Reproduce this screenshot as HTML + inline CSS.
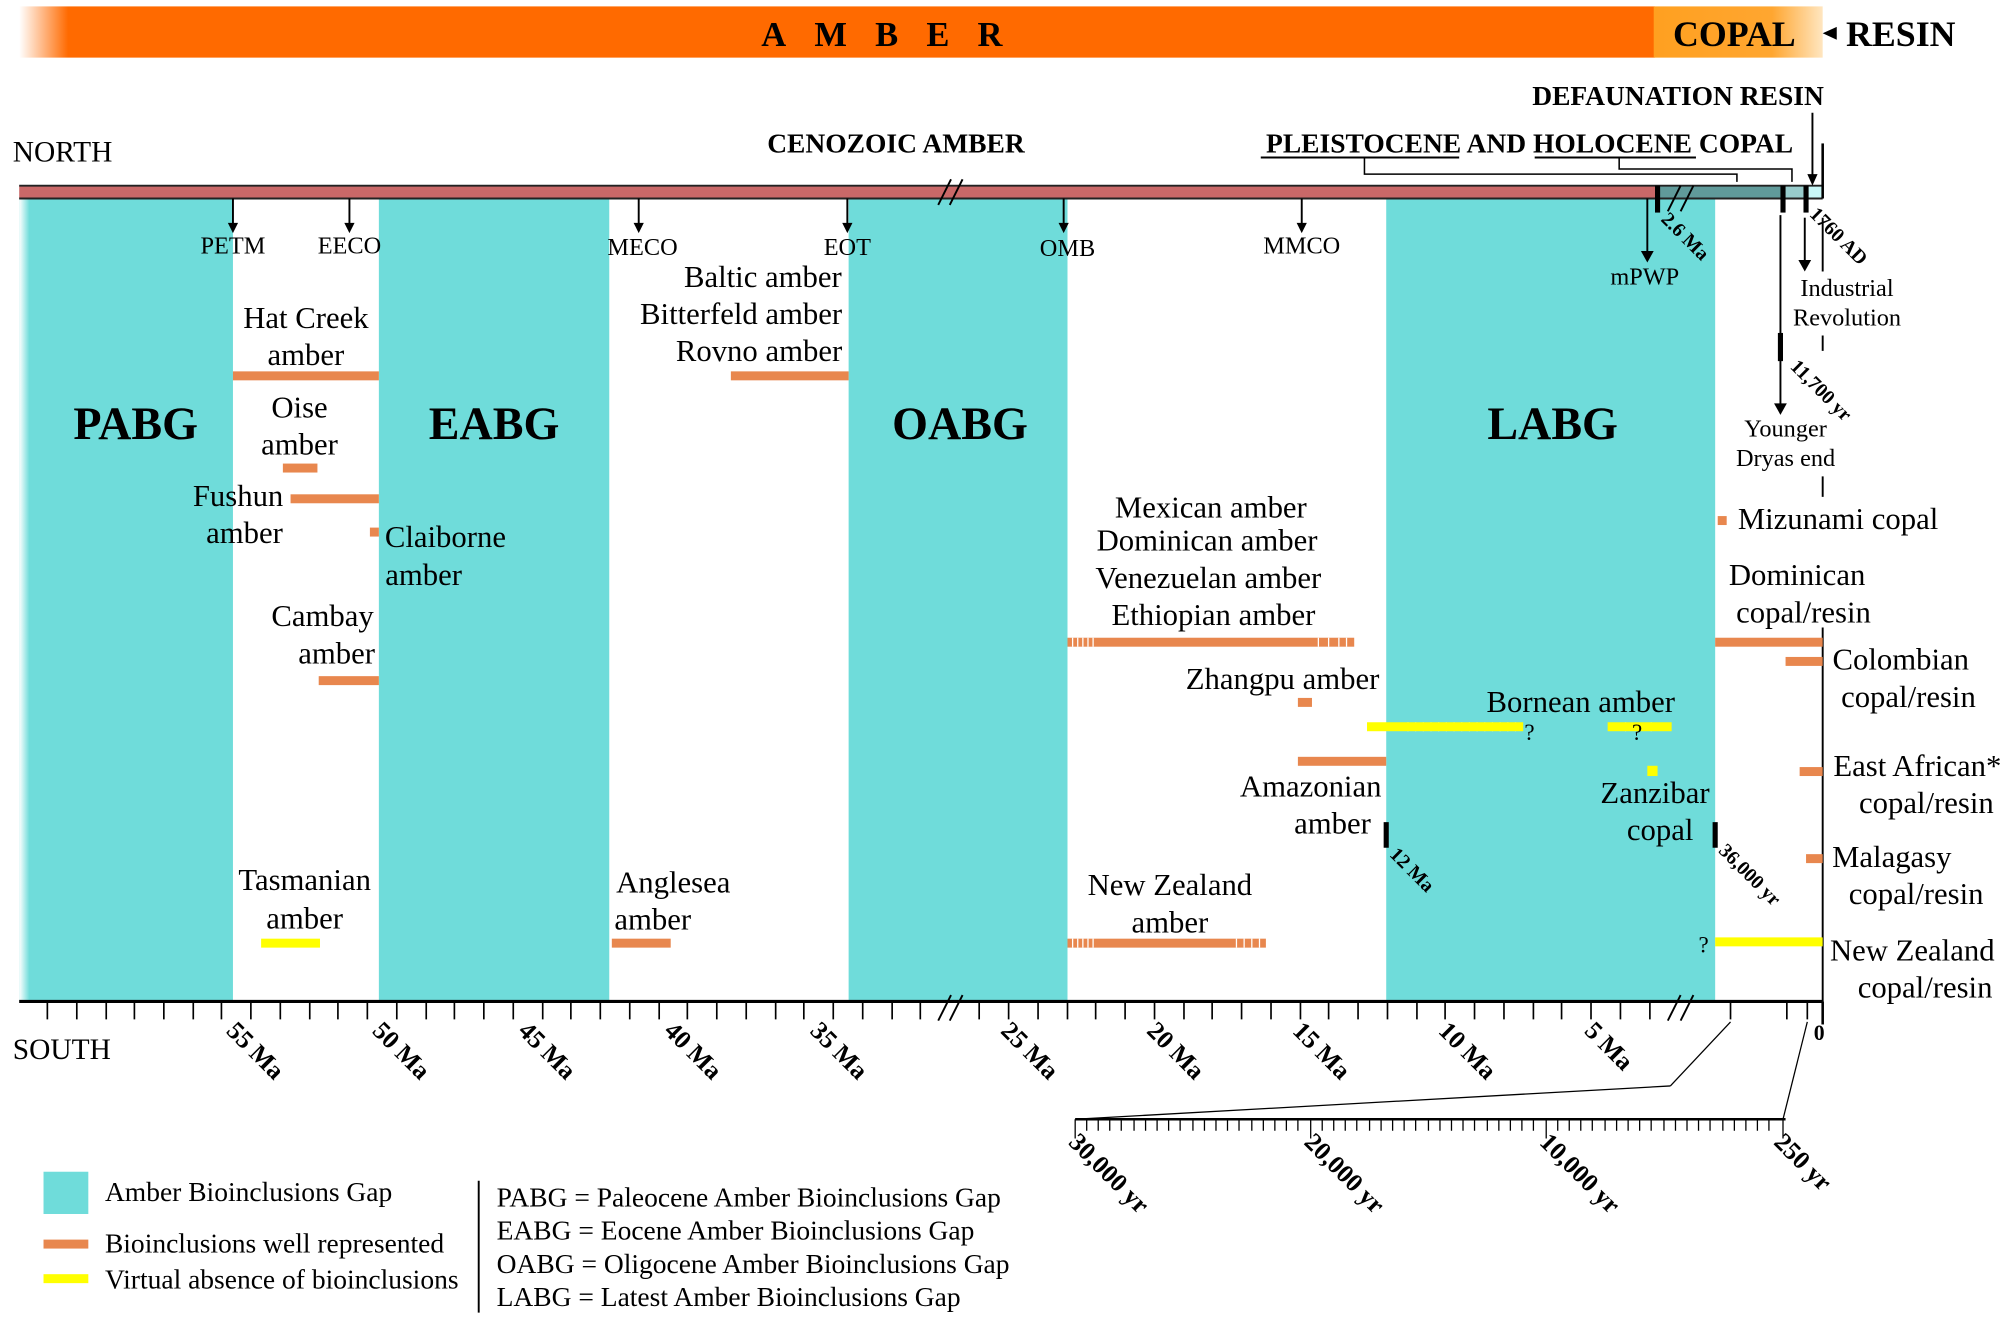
<!DOCTYPE html>
<html><head><meta charset="utf-8"><style>body{margin:0;background:#fff}svg{display:block}</style></head><body>
<svg width="2007" height="1319" viewBox="0 0 1568 1030" preserveAspectRatio="none" xmlns="http://www.w3.org/2000/svg" font-family="Liberation Serif, serif">
<defs>
<linearGradient id="gA" x1="0" x2="1"><stop offset="0" stop-color="#fff"/><stop offset="0.03" stop-color="#ff6a00"/><stop offset="1" stop-color="#ff6a00"/></linearGradient>
<linearGradient id="gC" x1="0" x2="1"><stop offset="0" stop-color="#ffa020"/><stop offset="0.7" stop-color="#ffa630"/><stop offset="1" stop-color="#ffe6c0"/></linearGradient>
<linearGradient id="gB" x1="0" x2="1"><stop offset="0" stop-color="#fff"/><stop offset="1" stop-color="#6fdcda"/></linearGradient>
</defs>
<rect x="15" y="5" width="1278" height="40" fill="url(#gA)"/>
<rect x="1292" y="5" width="132" height="40" fill="url(#gC)"/>
<text x="700" y="36" font-size="27" font-weight="bold" text-anchor="middle" letter-spacing="22">AMBER</text>
<text x="1355" y="36" font-size="28" font-weight="bold" text-anchor="middle">COPAL</text>
<polygon points="1424,26 1435,21 1435,31" fill="#000"/>
<text x="1485" y="36" font-size="28" font-weight="bold" text-anchor="middle">RESIN</text>
<text x="1311" y="82" font-size="21.5" font-weight="bold" text-anchor="middle">DEFAUNATION RESIN</text>
<text x="700" y="119" font-size="21.5" font-weight="bold" text-anchor="middle">CENOZOIC AMBER</text>
<text x="1195" y="119" font-size="21.5" font-weight="bold" text-anchor="middle">PLEISTOCENE AND HOLOCENE COPAL</text>
<line x1="985" y1="123" x2="1140" y2="123" stroke="#000" stroke-width="1.5"/>
<line x1="1199" y1="123" x2="1325" y2="123" stroke="#000" stroke-width="1.5"/>
<text x="10" y="126" font-size="23">NORTH</text>
<text x="10" y="827" font-size="23">SOUTH</text>
<rect x="15" y="155" width="167" height="627" fill="#6fdcda"/>
<rect x="15" y="155" width="8" height="627" fill="url(#gB)"/>
<rect x="296" y="155" width="180" height="627" fill="#6fdcda"/>
<rect x="663" y="155" width="171" height="627" fill="#6fdcda"/>
<rect x="1083" y="155" width="257" height="627" fill="#6fdcda"/>
<rect x="15" y="145" width="1278" height="10" fill="#c96868"/>
<rect x="1293" y="145" width="100" height="10" fill="#609a9a"/>
<rect x="1393" y="145" width="18" height="10" fill="#98cccc"/>
<rect x="1411" y="145" width="12" height="10" fill="#c8f8f8"/>
<line x1="15" y1="145" x2="1424" y2="145" stroke="#222" stroke-width="1.5"/>
<line x1="15" y1="155" x2="1424" y2="155" stroke="#222" stroke-width="1.5"/>
<line x1="1424" y1="112" x2="1424" y2="155" stroke="#000" stroke-width="2"/>
<path d="M1066,123 V136 H1357 V142 M1265,123 V132 H1400 V142" fill="none" stroke="#000" stroke-width="1.2"/>
<line x1="1416" y1="88" x2="1416" y2="140" stroke="#000" stroke-width="1.5"/><polygon points="1412,136 1420,136 1416,145" fill="#000"/>
<g stroke="#000" stroke-width="1.5"><line x1="733" y1="160" x2="743" y2="140"/><line x1="742" y1="160" x2="752" y2="140"/><line x1="1303" y1="165" x2="1313" y2="145"/><line x1="1313" y1="165" x2="1323" y2="145"/>
<line x1="733" y1="797" x2="743" y2="777"/><line x1="742" y1="797" x2="752" y2="777"/><line x1="1303" y1="797" x2="1313" y2="777"/><line x1="1313" y1="797" x2="1323" y2="777"/></g>
<g stroke="#000" stroke-width="4"><line x1="1295" y1="145" x2="1295" y2="166"/><line x1="1393" y1="145" x2="1393" y2="166"/><line x1="1411" y1="145" x2="1411" y2="166"/><line x1="1391" y1="260" x2="1391" y2="282"/><line x1="1083" y1="642" x2="1083" y2="662"/><line x1="1340" y1="642" x2="1340" y2="662"/></g>
<g stroke="#000" stroke-width="1.5">
<line x1="182" y1="155" x2="182" y2="176"/><line x1="273" y1="155" x2="273" y2="176"/><line x1="499" y1="155" x2="499" y2="176"/><line x1="662" y1="155" x2="662" y2="176"/><line x1="831" y1="155" x2="831" y2="176"/><line x1="1017" y1="155" x2="1017" y2="176"/>
<line x1="1287" y1="155" x2="1287" y2="198"/><line x1="1391" y1="168" x2="1391" y2="318"/><line x1="1410" y1="170" x2="1410" y2="205"/><line x1="1424" y1="170" x2="1424" y2="212"/>
<line x1="1424" y1="262" x2="1424" y2="274"/><line x1="1424" y1="372" x2="1424" y2="388"/><line x1="1424" y1="490" x2="1424" y2="782"/></g>
<g fill="#000"><polygon points="178,174 186,174 182,182"/><polygon points="269,174 277,174 273,182"/><polygon points="495,174 503,174 499,182"/><polygon points="658,174 666,174 662,182"/><polygon points="827,174 835,174 831,182"/><polygon points="1013,174 1021,174 1017,182"/><polygon points="1282,196 1292,196 1287,205"/><polygon points="1386,315 1396,315 1391,324"/><polygon points="1405,203 1415,203 1410,212"/></g>
<g font-size="19" text-anchor="middle"><text x="182" y="198">PETM</text><text x="273" y="198">EECO</text><text x="502" y="199">MECO</text><text x="662" y="199">EOT</text><text x="834" y="200">OMB</text><text x="1017" y="198">MMCO</text><text x="1285" y="222">mPWP</text>
<text x="1443" y="231">Industrial</text><text x="1443" y="254">Revolution</text><text x="1395" y="341">Younger</text><text x="1395" y="364">Dryas end</text></g>
<g font-size="15.5" font-weight="bold"><text transform="translate(1297,172) rotate(45)">2.6 Ma</text><text transform="translate(1413,168) rotate(45)">1760 AD</text><text transform="translate(1398,287) rotate(45)">11,700 yr</text><text transform="translate(1085,668) rotate(45)">12 Ma</text><text transform="translate(1342,665) rotate(45)">36,000 yr</text></g>
<g font-size="36" font-weight="bold" text-anchor="middle"><text x="106" y="343">PABG</text><text x="386" y="343">EABG</text><text x="750" y="343">OABG</text><text x="1213" y="343">LABG</text></g>
<g font-size="24" text-anchor="middle">
<text x="239" y="256">Hat Creek</text><text x="239" y="285">amber</text>
<text x="234" y="326">Oise</text><text x="234" y="355">amber</text>
<text x="186" y="395">Fushun</text><text x="191" y="424">amber</text>
<text x="348" y="427">Claiborne</text><text x="331" y="457">amber</text>
<text x="252" y="489">Cambay</text><text x="263" y="518">amber</text>
<text x="238" y="695">Tasmanian</text><text x="238" y="725">amber</text>
<text x="526" y="697">Anglesea</text><text x="510" y="726">amber</text>
<text x="596" y="224">Baltic amber</text><text x="579" y="253">Bitterfeld amber</text><text x="593" y="282">Rovno amber</text>
<text x="946" y="404">Mexican amber</text><text x="943" y="430">Dominican amber</text><text x="944" y="459">Venezuelan amber</text><text x="948" y="488">Ethiopian amber</text>
<text x="1002" y="538">Zhangpu amber</text><text x="1235" y="556">Bornean amber</text>
<text x="1024" y="622">Amazonian</text><text x="1041" y="651">amber</text>
<text x="1293" y="627">Zanzibar</text><text x="1297" y="656">copal</text>
<text x="914" y="699">New Zealand</text><text x="914" y="728">amber</text>
<text x="1436" y="413">Mizunami copal</text><text x="1404" y="457">Dominican</text><text x="1409" y="486">copal/resin</text>
<text x="1485" y="523">Colombian</text><text x="1491" y="552">copal/resin</text>
<text x="1498" y="606">East African*</text><text x="1505" y="635">copal/resin</text>
<text x="1478" y="677">Malagasy</text><text x="1497" y="706">copal/resin</text>
<text x="1494" y="750">New Zealand</text><text x="1504" y="779">copal/resin</text></g>
<g fill="#e8874e">
<rect x="182" y="290" width="114" height="7"/><rect x="571" y="290" width="92" height="7"/>
<rect x="221" y="362" width="27" height="7"/><rect x="227" y="386" width="69" height="7"/><rect x="289" y="412" width="7" height="7"/>
<rect x="249" y="528" width="47" height="7"/><rect x="478" y="733" width="46" height="7"/>
<rect x="834" y="498" width="224" height="7"/><rect x="1014" y="545" width="11" height="7"/><rect x="1014" y="591" width="69" height="7"/>
<rect x="834" y="733" width="155" height="7"/>
<rect x="1342" y="403" width="7" height="7"/><rect x="1340" y="498" width="84" height="7"/><rect x="1395" y="513" width="29" height="7"/><rect x="1406" y="599" width="18" height="7"/><rect x="1411" y="667" width="13" height="7"/>
</g>
<g stroke="#fff" stroke-width="1"><path d="M838,498v7M842,498v7M846,498v7M850,498v7M854,498v7M1030,498v7M1038,498v7M1046,498v7M1052,498v7M838,733v7M842,733v7M846,733v7M850,733v7M854,733v7M966,733v7M972,733v7M978,733v7M984,733v7"/>
<path d="M1100,564v7M1106,564v7M1112,564v7M1118,564v7M1124,564v7M1130,564v7M1136,564v7M1142,564v7M1148,564v7M1154,564v7M1160,564v7M1166,564v7M1172,564v7M1178,564v7M1184,564v7M1270,564v7M1290,564v7"/></g>
<g fill="#ffff00"><rect x="204" y="733" width="46" height="7"/><rect x="1068" y="564" width="122" height="7"/><rect x="1256" y="564" width="50" height="7"/><rect x="1287" y="598" width="8" height="8"/><rect x="1340" y="732" width="84" height="7"/></g>
<g font-size="18"><text x="1191" y="578">?</text><text x="1275" y="578">?</text><text x="1327" y="744">?</text></g>
<line x1="15" y1="782" x2="1424" y2="782" stroke="#000" stroke-width="2.5"/>
<line x1="1424" y1="782" x2="1424" y2="800" stroke="#000" stroke-width="2"/>
<g stroke="#000" stroke-width="1.3">
<path d="M37,782v14M60,782v14M83,782v14M105,782v14M128,782v14M151,782v14M173,782v14M196,782v14M219,782v14M242,782v14M264,782v14M287,782v14M310,782v14M333,782v14M355,782v14M378,782v14M401,782v14M424,782v14M446,782v14M469,782v14M492,782v14M515,782v14M537,782v14M560,782v14M583,782v14M606,782v14M628,782v14M651,782v14M674,782v14M697,782v14M719,782v14"/>
<path d="M765,782v14M788,782v14M811,782v14M834,782v14M856,782v14M879,782v14M902,782v14M925,782v14M947,782v14M970,782v14M993,782v14M1016,782v14M1038,782v14M1061,782v14M1084,782v14M1107,782v14M1129,782v14M1152,782v14M1175,782v14M1198,782v14M1220,782v14M1243,782v14M1266,782v14M1289,782v14"/>
<path d="M1352,782v14M1396,782v14M1412,782v14"/></g>
<g font-size="20" font-weight="bold"><text transform="translate(176,806) rotate(45)">55 Ma</text><text transform="translate(290,806) rotate(45)">50 Ma</text><text transform="translate(404,806) rotate(45)">45 Ma</text><text transform="translate(518,806) rotate(45)">40 Ma</text><text transform="translate(632,806) rotate(45)">35 Ma</text><text transform="translate(781,806) rotate(45)">25 Ma</text><text transform="translate(895,806) rotate(45)">20 Ma</text><text transform="translate(1009,806) rotate(45)">15 Ma</text><text transform="translate(1123,806) rotate(45)">10 Ma</text><text transform="translate(1237,806) rotate(45)">5 Ma</text></g>
<text x="1417" y="812" font-size="17" font-weight="bold">0</text>
<g stroke="#000" stroke-width="1"><line x1="1352" y1="798" x2="1305" y2="848"/><line x1="1305" y1="848" x2="840" y2="874"/><line x1="1412" y1="798" x2="1393" y2="874"/></g>
<line x1="840" y1="874" x2="1395" y2="874" stroke="#000" stroke-width="2"/>
<path d="M840,874v15M849,874v9M858,874v9M867,874v9M876,874v9M886,874v9M895,874v9M904,874v9M913,874v9M922,874v9M932,874v9M941,874v9M950,874v9M959,874v9M968,874v9M978,874v9M987,874v9M996,874v9M1005,874v9M1014,874v9M1024,874v15M1033,874v9M1042,874v9M1051,874v9M1060,874v9M1070,874v9M1079,874v9M1088,874v9M1097,874v9M1106,874v9M1116,874v9M1125,874v9M1134,874v9M1143,874v9M1152,874v9M1162,874v9M1171,874v9M1180,874v9M1189,874v9M1198,874v9M1208,874v15M1217,874v9M1226,874v9M1235,874v9M1244,874v9M1254,874v9M1263,874v9M1272,874v9M1281,874v9M1290,874v9M1300,874v9M1309,874v9M1318,874v9M1327,874v9M1336,874v9M1346,874v9M1355,874v9M1364,874v9M1373,874v9M1382,874v9M1393,874v15" stroke="#000" stroke-width="1"/>
<g font-size="20" font-weight="bold"><text transform="translate(834,893) rotate(45)">30,000 yr</text><text transform="translate(1018,893) rotate(45)">20,000 yr</text><text transform="translate(1202,893) rotate(45)">10,000 yr</text><text transform="translate(1385,893) rotate(45)">250 yr</text></g>
<rect x="34" y="915" width="35" height="33" fill="#6fdcda"/>
<rect x="34" y="968" width="35" height="7" fill="#e8874e"/>
<rect x="34" y="995" width="35" height="7" fill="#ffff00"/>
<g font-size="21.5"><text x="82" y="938">Amber Bioinclusions Gap</text><text x="82" y="978">Bioinclusions well represented</text><text x="82" y="1006">Virtual absence of bioinclusions</text>
<text x="388" y="942">PABG = Paleocene Amber Bioinclusions Gap</text><text x="388" y="968">EABG = Eocene Amber Bioinclusions Gap</text><text x="388" y="994">OABG = Oligocene Amber Bioinclusions Gap</text><text x="388" y="1020">LABG = Latest Amber Bioinclusions Gap</text></g>
<line x1="374" y1="922" x2="374" y2="1025" stroke="#000" stroke-width="1.5"/>
</svg>
</body></html>
